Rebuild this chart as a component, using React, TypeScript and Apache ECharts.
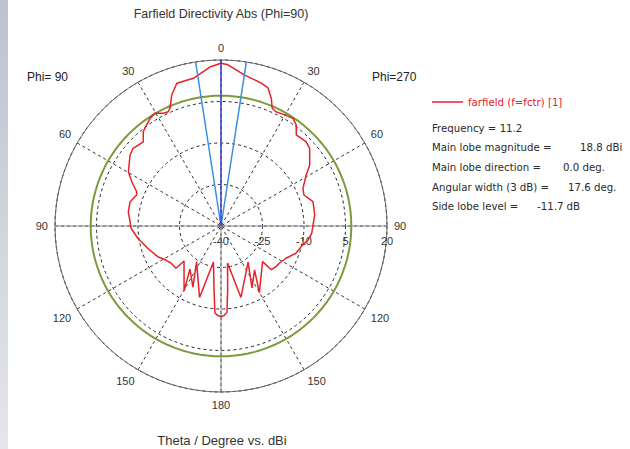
import React, { useEffect, useRef } from "react";
import * as echarts from "echarts";

const chartTitle = "Farfield Directivity Abs (Phi=90)";
const axisTitle = "Theta / Degree vs. dBi";
const leftPlaneLabel = "Phi= 90";
const rightPlaneLabel = "Phi=270";
const seriesName = "farfield (f=fctr) [1]";

const radiusMin = -40;
const radiusMax = 20;
const radiusStep = 15;
const angleStep = 30;

// Phi = 90 half-plane (drawn on the left), theta in degrees and directivity in dBi
const phi90Theta = [0, 4, 10.6, 17.2, 20.6, 23.4, 24.8, 27.1, 30.4, 33.4, 39.5, 42.7, 48.5, 52, 59.6, 63.6, 67.9, 69.8, 75, 81.2, 91.5, 98.4, 106.9, 115.9, 121.7, 126.7, 133.2, 133.4, 150.4, 144.2, 155.3, 145.8, 163.3, 168.2, 173.8, 176, 178, 180];
const phi90Dbi = [18.8, 17.6, 14.3, 14.0, 10.6, 6.4, 5.5, 5.8, 7.2, 6.6, 4.2, 1.4, 2.4, 1.7, -1.2, -4.0, -7.1, -7.5, -6.0, -6.1, -7.5, -9.6, -12.3, -14.6, -16.6, -17.5, -17.7, -21.6, -13.0, -20.8, -15.7, -24.3, -13.0, -26.7, -16.7, -8.5, -7.6, -7.3];

// Phi = 270 half-plane (drawn on the right)
const phi270Theta = [0, 2.5, 8.9, 15.6, 18.8, 21.5, 23.5, 25.7, 29.8, 33.8, 36.7, 39.6, 45.2, 48.8, 55.5, 59.1, 65.3, 69.5, 75.2, 83.3, 90, 94.6, 99.1, 103, 110, 116.4, 122.6, 126.5, 131, 130.6, 150.1, 142.7, 153.4, 143.1, 164.4, 170, 174, 176, 178, 180];
const phi270Dbi = [18.8, 18.3, 15.2, 13.7, 12.7, 9.6, 6.4, 5.8, 6.3, 6.8, 5.5, 2.7, 3.3, 2.6, -1.1, -4.1, -7.4, -8.0, -5.6, -5.9, -6.8, -7.1, -8.1, -9.7, -11.2, -13.8, -15.0, -15.3, -15.9, -20.2, -12.2, -20.0, -15.0, -23.7, -13.2, -26.4, -17.0, -8.8, -7.6, -7.3];

const frequency = 11.2;
const mainLobeMagnitude = 18.8;
const mainLobeDirection = 0.0;
const angularWidth = 17.6;
const sideLobeLevel = -11.7;

const infoLabels = ["Main lobe magnitude =", "Main lobe direction =", "Angular width (3 dB) =", "Side lobe level ="];
const infoValues = [
  `${mainLobeMagnitude.toFixed(1)} dBi`,
  `${mainLobeDirection.toFixed(1)} deg.`,
  `${angularWidth.toFixed(1)} deg.`,
  `${sideLobeLevel.toFixed(1)} dB`,
];

// angle axis: startAngle 0 (east), clockwise. theta=0 is north.
const leftAngle = (t: number) => 270 - t;
const rightAngle = (t: number) => (t + 270) % 360;

const FONT = "Liberation Sans, Arial, sans-serif";
const INFO_FONT = "DejaVu Sans, Verdana, sans-serif";

export default function App() {
  const ref = useRef<HTMLDivElement>(null);
  useEffect(() => {
    if (!ref.current) return;
    const chart = echarts.init(ref.current, null, { renderer: "svg" });

    const redData: number[][] = [
      ...phi90Theta.map((t, i) => [phi90Dbi[i], leftAngle(t)]).reverse(),
      ...phi270Theta.slice(1).map((t, i) => [phi270Dbi[i + 1], rightAngle(t)]),
    ];

    const sideLobeAbs = mainLobeMagnitude + sideLobeLevel;
    const ringAngles: number[] = [];
    for (let a = 0; a <= 360; a += 3) ringAngles.push(a);
    const greenData = ringAngles.map((a) => [sideLobeAbs, a]);

    const halfWidth = angularWidth / 2;
    const mainDir = rightAngle(mainLobeDirection);

    const lineBase = { type: "line", coordinateSystem: "polar", showSymbol: false, symbol: "none", silent: true, animation: false };

    const infoText = (text: string, x: number, y: number, fill = "#2a2a2a") => ({
      type: "text",
      x,
      y,
      style: { text, fill, font: `10.2px ${INFO_FONT}`, verticalAlign: "middle", textVerticalAlign: "middle" },
    });

    const info: any[] = [];
    const infoY = [147, 167, 187, 206];
    infoLabels.forEach((l, i) => info.push(infoText(l, 432, infoY[i])));
    const valueX = [580, 563, 568, 537];
    infoValues.forEach((v, i) => info.push(infoText(v, valueX[i], infoY[i])));

    chart.setOption({
      animation: false,
      backgroundColor: "#ffffff",
      polar: { center: [221, 226], radius: 166 },
      angleAxis: {
        type: "value",
        min: 0,
        max: 360,
        interval: angleStep,
        startAngle: 0,
        clockwise: true,
        axisLine: { show: true, lineStyle: { color: "#666", width: 1 } },
        axisTick: { show: false },
        splitLine: { show: true, lineStyle: { color: "#333", type: [3, 3], width: 1 } },
        axisLabel: {
          margin: 7,
          color: "#333",
          fontSize: 11,
          fontFamily: FONT,
          formatter: (v: number) => {
            const t = (v + 90) % 360;
            return String(t > 180 ? 360 - t : t);
          },
        },
      },
      radiusAxis: {
        type: "value",
        min: radiusMin,
        max: radiusMax,
        interval: radiusStep,
        axisLine: { show: false },
        axisTick: { show: false },
        splitLine: { show: true, lineStyle: { color: "#222", type: [3, 3], width: 1 } },
        axisLabel: { show: true, color: "#333", fontSize: 11, fontFamily: FONT, margin: -9, verticalAlign: "top", align: "center" },
      },
      series: [
        { ...lineBase, name: "hAxis", data: [[radiusMax, 180], [radiusMin, 0], [radiusMax, 0]], lineStyle: { color: "#8a8a8a", width: 1 }, z: 2 },
        { ...lineBase, name: "vAxis", data: [[radiusMin, 0], [radiusMax, 90]], lineStyle: { color: "#8a8a8a", width: 1 }, z: 2 },
        { ...lineBase, name: "sideLobe", data: greenData, lineStyle: { color: "#7b9a3a", width: 2 }, z: 3 },
        { ...lineBase, name: seriesName, data: redData, lineStyle: { color: "#e8202a", width: 1.5 }, z: 4 },
        { ...lineBase, name: "bwLeft", data: [[radiusMin, 0], [radiusMax, mainDir - halfWidth]], lineStyle: { color: "#3a90e0", width: 1.5 }, z: 5 },
        { ...lineBase, name: "bwRight", data: [[radiusMin, 0], [radiusMax, mainDir + halfWidth]], lineStyle: { color: "#3a90e0", width: 1.5 }, z: 5 },
        { ...lineBase, name: "mainDir", data: [[radiusMin, 0], [radiusMax, mainDir]], lineStyle: { color: "#3a3ac8", width: 1.5 }, z: 6 },
      ],
      graphic: [
        {
          type: "rect",
          shape: { x: 0, y: 0, width: 8, height: 449 },
          style: {
            fill: new echarts.graphic.LinearGradient(0, 0, 0, 1, [
              { offset: 0, color: "#bcc2d0" },
              { offset: 1, color: "#e4e6ea" },
            ]),
          },
          silent: true,
        },
        { type: "text", x: 221, y: 14, style: { text: chartTitle, fill: "#333", font: `12.5px ${FONT}`, align: "center", textAlign: "center", verticalAlign: "middle", textVerticalAlign: "middle" } },
        { type: "text", x: 222, y: 440, style: { text: axisTitle, fill: "#333", font: `13px ${FONT}`, align: "center", textAlign: "center", verticalAlign: "middle", textVerticalAlign: "middle" } },
        { type: "text", x: 27, y: 77, style: { text: leftPlaneLabel, fill: "#222", font: `12px ${FONT}`, verticalAlign: "middle", textVerticalAlign: "middle" } },
        { type: "text", x: 372, y: 77, style: { text: rightPlaneLabel, fill: "#222", font: `12px ${FONT}`, verticalAlign: "middle", textVerticalAlign: "middle" } },
        { type: "line", shape: { x1: 432, y1: 102, x2: 463, y2: 102 }, style: { stroke: "#e8202a", lineWidth: 1.5 } },
        infoText(seriesName, 468, 102, "#e8202a"),
        infoText(`Frequency = ${frequency}`, 432, 128),
        ...info,
      ],
    });
    return () => chart.dispose();
  }, []);
  return <div ref={ref} style={{ position: "absolute", left: 0, top: 0, width: 630, height: 449 }} />;
}
